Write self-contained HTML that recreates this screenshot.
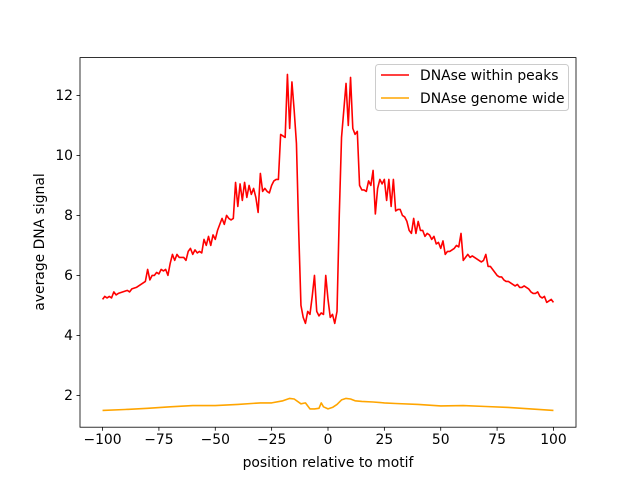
<!DOCTYPE html>
<html><head><meta charset="utf-8"><style>
body{margin:0;background:#fff}
svg{font-family:"DejaVu Sans","Liberation Sans",sans-serif}
</style></head><body>
<svg id="chart" width="640" height="480" viewBox="0 0 640 480">
<rect x="0" y="0" width="640" height="480" fill="#fff"/>
<g id="plot"></g>
<g id="axes"></g>
<rect x="80" y="57.6" width="496" height="369.6" fill="none" stroke="#000" stroke-width="0.8"/>
<text x="328" y="467" font-size="13.9" text-anchor="middle">position relative to motif</text>
<text x="0" y="0" font-size="13.9" text-anchor="middle" transform="translate(44,242) rotate(-90)">average DNA signal</text>
<g>
<rect x="375.5" y="64.5" width="193" height="46" rx="3" fill="#fff" fill-opacity="0.8" stroke="#ccc"/>
<line x1="381" y1="75" x2="409" y2="75" stroke="#ff0000" stroke-width="1.5"/>
<text x="420" y="80" font-size="13.9">DNAse within peaks</text>
<line x1="381" y1="98" x2="409" y2="98" stroke="#ffa500" stroke-width="1.5"/>
<text x="420" y="103" font-size="13.9">DNAse genome wide</text>
</g>
</svg>
<script>
const redX=[-100,-99,-98,-97,-96,-95,-94,-93,-91,-89,-88,-87,-85,-83,-82,-81,-80,-79,-78,-77,-76,-75,-74,-73,-72,-71,-70,-69,-68,-67,-66,-65,-64,-63,-62,-61,-60,-59,-58,-57,-56,-55,-54,-53,-52,-51,-50,-49,-48,-47,-46,-45,-44,-43,-42,-41,-40,-39,-38,-37,-36,-35,-34,-33,-32,-31,-30,-29,-28,-27,-26,-25,-24,-23,-22,-21,-20,-19,-18,-17,-16,-15,-14,-13,-12,-11,-10,-9,-8,-7,-6,-5,-4,-3,-2,-1,0,1,2,3,4,5,6,7,8,9,10,11,12,13,14,15,16,17,18,19,20,21,22,23,24,25,26,27,28,29,30,31,32,33,34,35,36,37,38,39,40,41,42,43,44,45,46,47,48,49,50,51,52,53,54,55,56,57,58,59,60,61,62,63,64,65,66,67,68,69,70,71,72,73,74,75,76,77,78,79,80,81,82,83,84,85,86,87,88,89,90,91,92,93,94,95,96,97,98,99,100];
const redY=[5.2,5.3,5.25,5.3,5.25,5.45,5.35,5.4,5.45,5.5,5.45,5.55,5.6,5.7,5.75,5.8,6.2,5.85,6.0,6.0,6.1,6.05,6.2,6.15,6.2,6.0,6.4,6.7,6.5,6.7,6.6,6.6,6.6,6.5,6.8,6.9,6.7,6.85,6.75,6.8,6.75,7.2,7.0,7.3,7.0,7.35,7.2,7.5,7.7,7.9,7.7,8.0,7.9,7.85,7.9,9.1,8.3,9.05,8.5,9.1,8.6,9.0,8.7,8.9,8.6,8.1,9.4,8.8,8.9,8.8,8.75,9.0,9.15,9.2,9.2,10.7,10.65,10.6,12.7,10.9,12.45,11.5,10.4,7.5,5.0,4.6,4.4,4.8,4.7,5.3,6.0,4.8,4.65,4.75,4.7,6.0,5.2,4.6,4.7,4.4,4.8,8.0,10.6,11.5,12.4,11.0,12.6,10.9,10.7,10.8,9.0,8.85,8.85,8.8,9.15,9.0,9.5,8.05,8.9,9.2,9.05,9.2,8.5,9.2,8.3,9.2,8.15,8.2,8.2,8.0,7.95,7.8,7.5,7.4,7.9,7.4,7.8,7.5,7.5,7.3,7.4,7.35,7.2,7.3,7.05,7.1,6.9,7.15,6.7,6.8,6.8,6.85,6.9,7.0,6.95,7.4,6.5,6.6,6.7,6.6,6.65,6.6,6.55,6.5,6.45,6.5,6.7,6.3,6.3,6.2,6.1,6.0,5.95,5.95,5.85,5.8,5.8,5.75,5.7,5.65,5.7,5.6,5.6,5.65,5.6,5.55,5.45,5.4,5.4,5.45,5.3,5.25,5.3,5.1,5.15,5.2,5.1];
const orangeX=[-100,-90,-80,-70,-60,-50,-40,-30,-25,-20,-17,-15,-12,-10,-8,-6,-4,-3,-2,0,2,4,6,8,10,12,15,20,25,30,40,50,60,70,80,90,100];
const orangeY=[1.5,1.53,1.57,1.62,1.66,1.66,1.7,1.75,1.75,1.82,1.9,1.88,1.72,1.75,1.55,1.55,1.57,1.75,1.62,1.55,1.6,1.7,1.85,1.9,1.88,1.82,1.8,1.78,1.75,1.73,1.7,1.65,1.66,1.63,1.6,1.55,1.5];
const xTicks=[-100,-75,-50,-25,0,25,50,75,100];
const yTicks=[2,4,6,8,10,12];
const L=80,R=576,T=57.6,B=427.2,X0=-110,X1=110,Y0=0.94,Y1=13.26;
const sx=v=>L+(v-X0)/(X1-X0)*(R-L);
const sy=v=>B-(v-Y0)/(Y1-Y0)*(B-T);
const NS='http://www.w3.org/2000/svg';
const plot=document.getElementById('plot'),axes=document.getElementById('axes');
function line(xs,ys,color,name){
  const p=document.createElementNS(NS,'polyline');
  p.setAttribute('points',xs.map((x,i)=>sx(x).toFixed(2)+','+sy(ys[i]).toFixed(2)).join(' '));
  p.setAttribute('fill','none');p.setAttribute('stroke',color);p.setAttribute('stroke-width','1.6');
  p.setAttribute('stroke-linejoin','round');
  
  
  plot.appendChild(p);
}
line(redX,redY,'#ff0000','series-dnase-within-peaks');
line(orangeX,orangeY,'#ffa500','series-dnase-genome-wide');
xTicks.forEach(t=>{
  const x=sx(t);
  const l=document.createElementNS(NS,'line');
  l.setAttribute('x1',x);l.setAttribute('x2',x);l.setAttribute('y1',B);l.setAttribute('y2',B+3.5);l.setAttribute('stroke','#000');l.setAttribute('stroke-width','0.8');
  
  
  axes.appendChild(l);
  const tx=document.createElementNS(NS,'text');
  tx.setAttribute('x',x);tx.setAttribute('y',B+17);tx.setAttribute('font-size','13.9');tx.setAttribute('text-anchor','middle');
  tx.textContent=t<0?'\u2212'+(-t):String(t);
  
  
  axes.appendChild(tx);
});
yTicks.forEach(t=>{
  const y=sy(t);
  const l=document.createElementNS(NS,'line');
  l.setAttribute('x1',L-3.5);l.setAttribute('x2',L);l.setAttribute('y1',y);l.setAttribute('y2',y);l.setAttribute('stroke','#000');l.setAttribute('stroke-width','0.8');
  
  
  axes.appendChild(l);
  const tx=document.createElementNS(NS,'text');
  tx.setAttribute('x',L-7);tx.setAttribute('y',y+4.8);tx.setAttribute('font-size','13.9');tx.setAttribute('text-anchor','end');
  tx.textContent=String(t);
  
  
  axes.appendChild(tx);
});
</script>
</body></html>
